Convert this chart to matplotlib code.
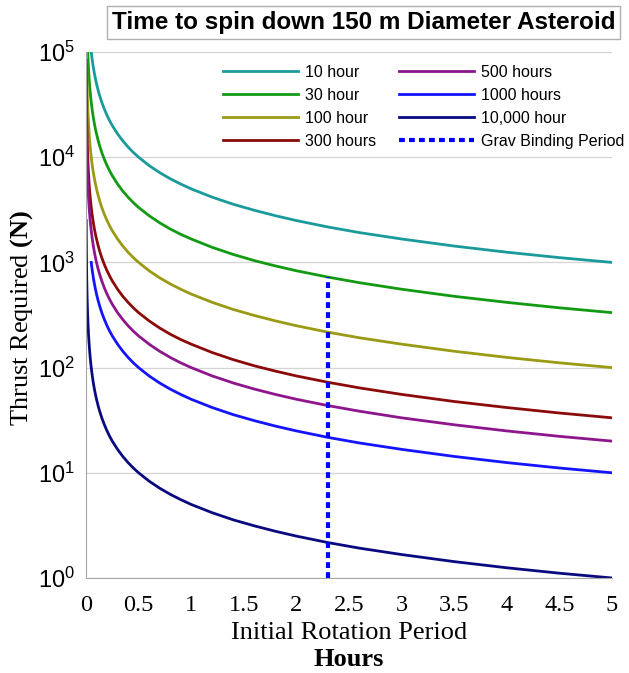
import matplotlib
matplotlib.use('Agg')
import matplotlib.pyplot as plt

plt.rcParams['font.family'] = ['Liberation Sans', 'DejaVu Sans']
plt.rcParams['mathtext.fontset'] = 'custom'
plt.rcParams['mathtext.bf'] = 'Liberation Serif:bold'
plt.rcParams['mathtext.rm'] = 'Liberation Serif'

nan = float('nan')

# initial rotation period (hours), shared sample positions
period = [0.002, 0.003, 0.004, 0.005, 0.0065, 0.0075, 0.01, 0.0125, 0.015, 0.0175,
          0.02, 0.025, 0.03, 0.035, 0.04, 0.045, 0.05, 0.055, 0.06, 0.07,
          0.08, 0.09, 0.1, 0.115, 0.13, 0.15, 0.175, 0.2, 0.225, 0.25,
          0.3, 0.35, 0.4, 0.45, 0.5, 0.6, 0.7, 0.8, 0.9, 1.0,
          1.2, 1.4, 1.6, 1.8, 2.0, 2.3, 2.6, 3.0, 3.5, 4.0,
          4.5, 5.0]

# thrust required (N)
t_10h = [nan, nan, nan, nan, nan, nan, nan, nan, nan, nan,
         nan, nan, nan, nan, nan, 111000, 100000, 90900, 83300, 71400,
         62500, 55600, 50000, 43500, 38500, 33300, 28600, 25000, 22200, 20000,
         16700, 14300, 12500, 11100, 10000, 8330, 7140, 6250, 5560, 5000,
         4170, 3570, 3130, 2780, 2500, 2170, 1920, 1670, 1430, 1250,
         1110, 1000]
t_30h = [nan, nan, nan, nan, nan, nan, nan, nan, 111000, 95200,
         83300, 66700, 55600, 47600, 41700, 37000, 33300, 30300, 27800, 23800,
         20800, 18500, 16700, 14500, 12800, 11100, 9520, 8330, 7410, 6670,
         5560, 4760, 4170, 3700, 3330, 2780, 2380, 2080, 1850, 1670,
         1390, 1190, 1040, 926, 833, 725, 641, 556, 476, 417,
         370, 333]
t_100h = [nan, nan, 125000, 100000, 76900, 66700, 50000, 40000, 33300, 28600,
          25000, 20000, 16700, 14300, 12500, 11100, 10000, 9090, 8330, 7140,
          6250, 5560, 5000, 4350, 3850, 3330, 2860, 2500, 2220, 2000,
          1670, 1430, 1250, 1110, 1000, 833, 714, 625, 556, 500,
          417, 357, 313, 278, 250, 217, 192, 167, 143, 125,
          111, 100]
t_300h = [83300, 55600, 41700, 33300, 25600, 22200, 16700, 13300, 11100, 9520,
          8330, 6670, 5560, 4760, 4170, 3700, 3330, 3030, 2780, 2380,
          2080, 1850, 1670, 1450, 1280, 1110, 952, 833, 741, 667,
          556, 476, 417, 370, 333, 278, 238, 208, 185, 167,
          139, 119, 104, 92.6, 83.3, 72.5, 64.1, 55.6, 47.6, 41.7,
          37.0, 33.3]
t_500h = [50000, 33300, 25000, 20000, 15400, 13300, 10000, 8000, 6670, 5710,
          5000, 4000, 3330, 2860, 2500, 2220, 2000, 1820, 1670, 1430,
          1250, 1110, 1000, 870, 769, 667, 571, 500, 444, 400,
          333, 286, 250, 222, 200, 167, 143, 125, 111, 100,
          83.3, 71.4, 62.5, 55.6, 50, 43.5, 38.5, 33.3, 28.6, 25,
          22.2, 20]
t_1000h = [nan, nan, nan, nan, nan, nan, nan, nan, nan, nan,
           nan, nan, nan, nan, nan, nan, 1000, 909, 833, 714,
           625, 556, 500, 435, 385, 333, 286, 250, 222, 200,
           167, 143, 125, 111, 100, 83.3, 71.4, 62.5, 55.6, 50,
           41.7, 35.7, 31.3, 27.8, 25, 21.7, 19.2, 16.7, 14.3, 12.5,
           11.1, 10]
t_10000h = [2500, 1670, 1250, 1000, 769, 667, 500, 400, 333, 286,
            250, 200, 167, 143, 125, 111, 100, 90.9, 83.3, 71.4,
            62.5, 55.6, 50, 43.5, 38.5, 33.3, 28.6, 25, 22.2, 20,
            16.7, 14.3, 12.5, 11.1, 10, 8.33, 7.14, 6.25, 5.56, 5,
            4.17, 3.57, 3.13, 2.78, 2.5, 2.17, 1.92, 1.67, 1.43, 1.25,
            1.11, 1.0]

labels = ['10 hour', '30 hour', '100 hour', '300 hours', '500 hours', '1000 hours', '10,000 hour']
series = [t_10h, t_30h, t_100h, t_300h, t_500h, t_1000h, t_10000h]
colors = ['#1a9a9a', '#139a13', '#9a9a14', '#8b0a0a', '#8d168d', '#1414ff', '#0a0a80']

grav_period = 2.3
grav_top = 725

fig = plt.figure(figsize=(6.29, 6.73), dpi=100)
ax = fig.add_axes([0.1367, 0.1412, 0.8363, 0.7815])

for y, lab, c in zip(series, labels, colors):
    ax.plot(period, y, color=c, lw=2, label=lab)
ax.plot([grav_period, grav_period], [1, grav_top], color='#0000ff', lw=3,
        linestyle=(0, (1.4, 1.0)), label='Grav Binding Period')

ax.set_yscale('log')
ax.set_ylim(1, 1e5)
ax.set_xlim(0, 5)
ax.set_xticks([0, 0.5, 1, 1.5, 2, 2.5, 3, 3.5, 4, 4.5, 5])
ax.set_xticklabels(['0', '0.5', '1', '1.5', '2', '2.5', '3', '3.5', '4', '4.5', '5'],
                   family='Liberation Serif', fontsize=17.5)
ax.set_yticks([1, 10, 100, 1000, 1e4, 1e5])
ax.minorticks_off()
ax.tick_params(axis='y', labelsize=17, length=0, pad=8)
ax.tick_params(axis='x', length=0, pad=12)
ax.grid(axis='y', color='#d4d4d4', lw=0.9)
ax.set_axisbelow(True)
for s in ['top', 'right']:
    ax.spines[s].set_visible(False)
for s in ['left', 'bottom']:
    ax.spines[s].set_color('#a8a8a8')

fig.text(349 / 629, 1 - 633 / 673, 'Initial Rotation Period', family='Liberation Serif',
         fontsize=19, ha='center', va='center')
fig.text(349 / 629, 1 - 660 / 673, 'Hours', family='Liberation Serif', weight='bold',
         fontsize=19, ha='center', va='center')
fig.text(22 / 629, 1 - 318 / 673, r'Thrust Required $\mathbf{(N)}$', family='Liberation Serif',
         fontsize=19, ha='center', va='center', rotation=90)

fig.text(0.578, 0.9666, 'Time to spin down 150 m Diameter Asteroid', fontsize=17.5, weight='bold',
         ha='center', va='center',
         bbox=dict(boxstyle='square,pad=0.2', fc='white', ec='#b0b0b0', lw=1))

ax.legend(ncol=2, frameon=False, fontsize=11.5, loc='upper left',
          bbox_to_anchor=(223 / 629, 1 - 65 / 673), bbox_transform=fig.transFigure,
          handlelength=4.7, handletextpad=0.45, columnspacing=1.4, labelspacing=0.5,
          borderaxespad=0, borderpad=0)

fig.savefig('out.png', dpi=100)
